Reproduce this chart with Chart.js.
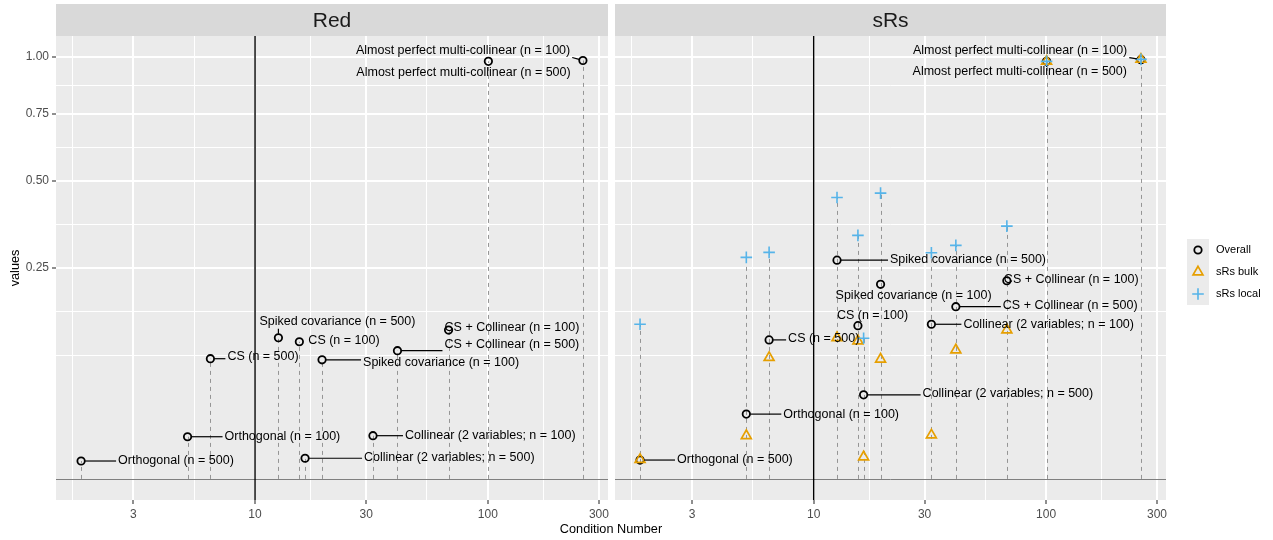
<!DOCTYPE html>
<html>
<head>
<meta charset="utf-8">
<script src="https://cdn.jsdelivr.net/npm/chart.js@4.4.1/dist/chart.umd.min.js"></script>
<style>
  html, body { margin: 0; padding: 0; background: #ffffff; }
  #wrap { position: relative; width: 1273px; height: 540px; }
  #wrap canvas { position: absolute; left: 0; top: 0; }
</style>
</head>
<body>
<div id="wrap">
  <canvas id="redChart" width="1273" height="540"></canvas>
  <canvas id="srsChart" width="1273" height="540"></canvas>
</div>
<script>
// ---- data ----
const scenarios = [
    'Orthogonal (n = 500)', 'Orthogonal (n = 100)', 'CS (n = 500)', 'Spiked covariance (n = 500)',
    'CS (n = 100)', 'Spiked covariance (n = 100)', 'Collinear (2 variables; n = 500)',
    'Collinear (2 variables; n = 100)', 'CS + Collinear (n = 500)', 'CS + Collinear (n = 100)',
    'Almost perfect multi-collinear (n = 500)', 'Almost perfect multi-collinear (n = 100)'
];
const conditionNumber = [1.79, 5.13, 6.43, 12.6, 15.5, 19.4, 16.4, 32.1, 40.9, 67.8, 100.5, 256];
const redOverall = [0.0018, 0.0100, 0.0812, 0.112, 0.1057, 0.0797, 0.0024, 0.0105, 0.0924, 0.1245, 0.980, 0.984];
const srsOverall = [0.0020, 0.0236, 0.1086, 0.269, 0.132, 0.2128, 0.0397, 0.1344, 0.1667, 0.2207, 0.980, 0.988];
const srsBulk = [0.0021, 0.0105, 0.0827, 0.1121, 0.107, 0.0805, 0.0027, 0.0108, 0.0935, 0.1247, 0.980, 0.989];
const srsLocal = [0.1344, 0.2758, 0.2884, 0.4452, 0.3333, 0.4589, 0.1112, 0.2874, 0.3065, 0.3592, 0.980, 0.989];

const xBreaks = [3, 10, 30, 100, 300];
const yBreaks = [0.25, 0.5, 0.75, 1.0];
const yLimits = [0, 1];
const vlineAt = 10;
const hlineAt = 0;

// repelled label offsets (px): text left edge / text middle, relative to the point
const redLabelDx = [37, 37, 17, -19, 9, 41, 59, 32, 47, -4, -132, -227];
const redLabelDy = [0, 0, -2, -16, -1, 3, -1, 0, -6, -3, 11, -10];
const srsLabelDx = [37, 37, 19, 53, -21, -45, 59, 32, 47, -3, -134, -228];
const srsLabelDy = [0, 0, -1, -1, -10, 11, -1, 0, -1, -1, 10, -9];

// ---- styles ----
const FONT = '"Liberation Sans", Arial, Helvetica, sans-serif';
Chart.defaults.font.family = FONT;
Chart.defaults.animation = false;

const overallStyle = { label: 'Overall', pointStyle: 'circle', radius: 3.7, color: '#000000', width: 1.8 };
const bulkStyle = { label: 'sRs bulk', pointStyle: 'triangle', radius: 5.7, color: '#E69F00', width: 1.7 };
const localStyle = { label: 'sRs local', pointStyle: 'cross', radius: 5.8, color: '#56B4E9', width: 1.6 };

// sqrt y / log10 x, like the ggplot transforms
const tx = c => Math.log10(c);
const ty = v => Math.sqrt(v);

function expand(lo, hi, f) {
    const d = (hi - lo) * f;
    return [lo - d, hi + d];
}
const [xMin, xMax] = expand(tx(Math.min(...conditionNumber)), tx(Math.max(...conditionNumber)), 0.05);
const [yMin, yMax] = expand(ty(yLimits[0]), ty(yLimits[1]), 0.05);

// major + minor breaks, minor ones halfway in transformed space
function tickSet(breaks, lo, hi) {
    const b = breaks.filter(v => v >= lo && v <= hi);
    const step = b[1] - b[0];
    const ext = b.slice();
    if (lo < ext[0]) ext.unshift(ext[0] - step);
    if (hi > ext[ext.length - 1]) ext.push(ext[ext.length - 1] + step);
    const ticks = b.map(v => ({ value: v, isMajor: true }));
    for (let i = 0; i < ext.length - 1; i++) {
        [ext[i], (ext[i] + ext[i + 1]) / 2].forEach(v => {
            if (v >= lo && v <= hi && !b.some(m => Math.abs(m - v) < 1e-9)) ticks.push({ value: v, isMajor: false });
        });
    }
    return ticks.sort((p, q) => p.value - q.value);
}
const xTicks = tickSet(xBreaks.map(tx), xMin, xMax);
const yTicks = tickSet(yBreaks.map(ty), yMin, yMax);

const gridOpts = showTicks => ({
    color: '#ffffff',
    lineWidth: c => (c.tick && c.tick.isMajor) ? 2 : 1,
    drawTicks: true,
    tickLength: 4,
    tickWidth: 1.1,
    tickColor: c => (showTicks && c.tick && c.tick.isMajor) ? '#333333' : 'rgba(0,0,0,0)'
});

function scalesFor(withYAxis) {
    return {
        x: {
            type: 'linear', min: xMin, max: xMax, bounds: 'data',
            afterBuildTicks: s => { s.ticks = xTicks.map(t => ({ ...t })); },
            afterFit: s => { s.height = 40; },
            ticks: {
                autoSkip: false, maxRotation: 0, minRotation: 0, padding: 3,
                color: '#4d4d4d', font: { size: 12 },
                callback: (v, i, ts) => ts[i].isMajor ? String(Math.round(Math.pow(10, v))) : ''
            },
            grid: gridOpts(true),
            border: { display: false }
        },
        y: {
            type: 'linear', min: yMin, max: yMax, bounds: 'data',
            afterBuildTicks: s => { s.ticks = yTicks.map(t => ({ ...t })); },
            afterFit: s => { s.width = withYAxis ? 56 : 0; },
            ticks: {
                display: withYAxis, autoSkip: false, padding: 3,
                color: '#4d4d4d', font: { size: 12 },
                callback: (v, i, ts) => ts[i].isMajor ? (v * v).toFixed(2) : ''
            },
            title: {
                display: withYAxis, text: 'values', color: '#000000',
                font: { size: 12.7 }, padding: { top: 8, bottom: 0 }
            },
            grid: gridOpts(withYAxis),
            border: { display: false }
        }
    };
}

function pointDataset(style, values) {
    return {
        label: style.label,
        data: conditionNumber.map((c, i) => ({ x: tx(c), y: ty(values[i]) })),
        pointStyle: style.pointStyle,
        pointRadius: style.radius,
        pointHoverRadius: style.radius,
        pointBorderColor: style.color,
        pointBackgroundColor: 'rgba(0,0,0,0)',
        pointBorderWidth: style.width,
        showLine: false
    };
}

function drawMarker(ctx, style, x, y) {
    ctx.save();
    ctx.strokeStyle = style.color;
    ctx.fillStyle = 'rgba(0,0,0,0)';
    ctx.lineWidth = style.width;
    Chart.helpers.drawPoint(ctx, { pointStyle: style.pointStyle, radius: style.radius, borderWidth: style.width, rotation: 0 }, x, y);
    ctx.restore();
}

function drawLegend(ctx, items) {
    const kx = 1187, ky = 239, ks = 22;
    ctx.save();
    items.forEach((it, i) => {
        const cy = ky + i * ks + ks / 2;
        ctx.fillStyle = '#ebebeb';
        ctx.fillRect(kx, ky + i * ks, ks, ks);
        drawMarker(ctx, it, kx + ks / 2, cy);
        ctx.fillStyle = '#000000';
        ctx.font = '11px ' + FONT;
        ctx.textAlign = 'left';
        ctx.textBaseline = 'middle';
        ctx.fillText(it.label, kx + ks + 7, cy);
    });
    ctx.restore();
}

function panelPlugin(cfg) {
    return {
        id: 'panel' + cfg.strip,
        beforeDraw(chart) {
            const { ctx, chartArea: a } = chart;
            ctx.save();
            ctx.fillStyle = '#ebebeb';
            ctx.fillRect(a.left, a.top, a.right - a.left, a.bottom - a.top);
            ctx.fillStyle = '#d9d9d9';
            ctx.fillRect(a.left, 4, a.right - a.left, a.top - 4);
            ctx.fillStyle = '#1a1a1a';
            ctx.font = '21px ' + FONT;
            ctx.textAlign = 'center';
            ctx.textBaseline = 'middle';
            ctx.fillText(cfg.strip, (a.left + a.right) / 2, (4 + a.top) / 2 + 1);
            ctx.restore();
        },
        beforeDatasetsDraw(chart) {
            const { ctx, chartArea: a } = chart;
            const xs = chart.scales.x, ys = chart.scales.y;
            const y0 = ys.getPixelForValue(ty(hlineAt));
            ctx.save();
            ctx.beginPath();
            ctx.rect(a.left, a.top, a.right - a.left, a.bottom - a.top);
            ctx.clip();
            // dashed drop lines
            ctx.strokeStyle = '#8c8c8c';
            ctx.lineWidth = 0.9;
            ctx.setLineDash([4, 4]);
            conditionNumber.forEach((c, i) => {
                const top = Math.max(...cfg.series.map(s => s[i]));
                const px = Math.round(xs.getPixelForValue(tx(c))) + 0.5;
                ctx.beginPath();
                ctx.moveTo(px, y0);
                ctx.lineTo(px, ys.getPixelForValue(ty(top)));
                ctx.stroke();
            });
            ctx.setLineDash([]);
            ctx.strokeStyle = '#7f7f7f';
            ctx.lineWidth = 1;
            ctx.beginPath();
            ctx.moveTo(a.left, Math.round(y0) + 0.5);
            ctx.lineTo(a.right, Math.round(y0) + 0.5);
            ctx.stroke();
            const vx = xs.getPixelForValue(tx(vlineAt));
            ctx.strokeStyle = '#000000';
            ctx.lineWidth = 1.4;
            ctx.beginPath();
            ctx.moveTo(vx, a.top);
            ctx.lineTo(vx, a.bottom);
            ctx.stroke();
            ctx.restore();
        },
        afterDatasetsDraw(chart) {
            const { ctx } = chart;
            const xs = chart.scales.x, ys = chart.scales.y;
            ctx.save();
            ctx.font = '12.5px ' + FONT;
            ctx.fillStyle = '#000000';
            ctx.strokeStyle = '#000000';
            ctx.lineWidth = 1.2;
            ctx.textAlign = 'left';
            ctx.textBaseline = 'middle';
            scenarios.forEach((name, i) => {
                const px = xs.getPixelForValue(tx(conditionNumber[i]));
                const py = ys.getPixelForValue(ty(cfg.labelled[i]));
                const lx = px + cfg.dx[i], ly = py + cfg.dy[i];
                const w = ctx.measureText(name).width;
                const box = { l: lx - 2, r: lx + w + 2, t: ly - 7, b: ly + 7 };
                const cx = Math.min(Math.max(px, box.l), box.r);
                const cy = Math.min(Math.max(py, box.t), box.b);
                const d = Math.hypot(cx - px, cy - py);
                if (d > 8) {
                    const ux = (cx - px) / d, uy = (cy - py) / d;
                    ctx.beginPath();
                    ctx.moveTo(px + ux * 4, py + uy * 4);
                    ctx.lineTo(cx, cy);
                    ctx.stroke();
                }
                ctx.fillText(name, lx, ly);
            });
            ctx.restore();
        },
        afterDraw(chart) {
            const ctx = chart.ctx;
            if (cfg.xTitle) {
                ctx.save();
                ctx.fillStyle = '#000000';
                ctx.font = '12.7px ' + FONT;
                ctx.textAlign = 'center';
                ctx.textBaseline = 'middle';
                ctx.fillText(cfg.xTitle, 611, 529);
                ctx.restore();
            }
            if (cfg.legend) drawLegend(ctx, cfg.legend);
        }
    };
}

new Chart(document.getElementById('redChart'), {
    type: 'scatter',
    data: { datasets: [pointDataset(overallStyle, redOverall)] },
    options: {
        responsive: false,
        layout: { padding: { left: 0, top: 36, right: 1273 - 608, bottom: 0 } },
        plugins: { legend: { display: false }, tooltip: { enabled: false } },
        scales: scalesFor(true)
    },
    plugins: [panelPlugin({
        strip: 'Red', series: [redOverall], labelled: redOverall,
        dx: redLabelDx, dy: redLabelDy, xTitle: 'Condition Number'
    })]
});

new Chart(document.getElementById('srsChart'), {
    type: 'scatter',
    data: {
        datasets: [
            pointDataset(localStyle, srsLocal),
            pointDataset(bulkStyle, srsBulk),
            pointDataset(overallStyle, srsOverall)
        ]
    },
    options: {
        responsive: false,
        layout: { padding: { left: 615, top: 36, right: 1273 - 1166, bottom: 0 } },
        plugins: { legend: { display: false }, tooltip: { enabled: false } },
        scales: scalesFor(false)
    },
    plugins: [panelPlugin({
        strip: 'sRs', series: [srsOverall, srsBulk, srsLocal], labelled: srsOverall,
        dx: srsLabelDx, dy: srsLabelDy, legend: [overallStyle, bulkStyle, localStyle]
    })]
});
</script>
</body>
</html>
